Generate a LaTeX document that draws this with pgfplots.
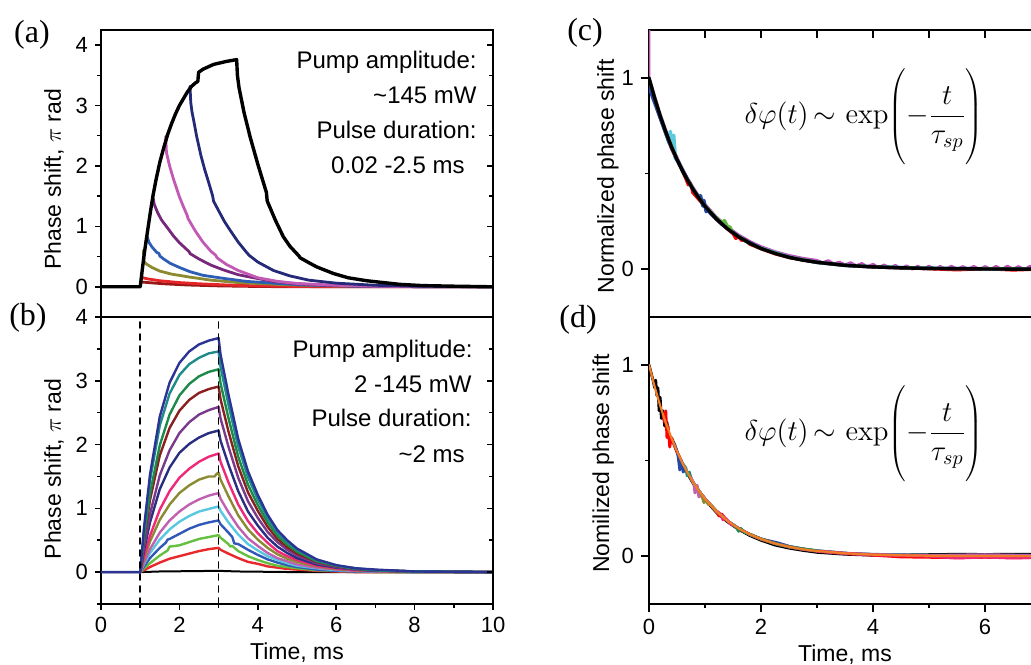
\documentclass[border=0pt]{standalone}
\usepackage[no-math]{fontspec}
\setmainfont{Liberation Sans}
\newfontfamily\seriffont{Liberation Serif}
\usepackage{pgfplots}
\pgfplotsset{compat=1.18}

\definecolor{aNavy}{HTML}{252A78}
\definecolor{aOrchid}{HTML}{C259B5}
\definecolor{aPurple}{HTML}{77287A}
\definecolor{aBlue}{HTML}{2D5DB5}
\definecolor{aOlive}{HTML}{8B8A30}
\definecolor{aRed}{HTML}{E52528}
\definecolor{aDRed}{HTML}{981818}
\definecolor{bNavy}{HTML}{2B3494}
\definecolor{bTeal}{HTML}{1F8A8A}
\definecolor{bGreen}{HTML}{1E8A4A}
\definecolor{bMaroon}{HTML}{8A1F1F}
\definecolor{bPurple}{HTML}{7A3A8C}
\definecolor{bDNavy}{HTML}{2A2E80}
\definecolor{bPink}{HTML}{F0287A}
\definecolor{bOlive}{HTML}{8A8A32}
\definecolor{bOrchid}{HTML}{C060B0}
\definecolor{bCyan}{HTML}{58C8E0}
\definecolor{bBlue}{HTML}{3058B8}
\definecolor{bLGreen}{HTML}{66C040}
\definecolor{bRed}{HTML}{E8282A}
\definecolor{cMag}{HTML}{C050B8}
\definecolor{cCyan}{HTML}{5EC8DC}
\definecolor{cBlue}{HTML}{2448A8}
\definecolor{cGreen}{HTML}{62B842}
\definecolor{dOrange}{HTML}{F07D24}
\definecolor{dTeal}{HTML}{1C8C7C}

\pgfplotsset{
  panel/.style={
    scale only axis, width=196pt, height=143.5pt,
    axis line style={line width=0.85pt},
    tick style={line width=0.75pt, black},
    major tick length=3pt, minor tick length=1.8pt,
    tick align=outside,
    /pgf/number format/assume math mode=true,
    tick label style={font=\fontsize{11}{13}\selectfont},
    label style={font=\fontsize{11.5}{13}\selectfont},
    xlabel style={yshift=2pt},
    every axis plot/.append style={line join=round, line cap=round},
  }
}

\newcommand{\formula}{$\displaystyle \delta\varphi(t)\,{\sim}\,\exp\!\left(\vrule height 25pt depth 22pt width 0pt -\frac{t}{\tau_{sp}}\right)$}

\begin{document}
\begin{tikzpicture}
\useasboundingbox (0,0) rectangle (515.5pt,-332pt);
\clip (0,0) rectangle (515.5pt,-332pt);

% ---------------- (a) ----------------
\begin{axis}[panel, at={(50.5pt,-15pt)}, anchor=north west,
  xmin=0, xmax=10, ymin=-0.5, ymax=4.25,
  xtick=\empty, ytick={0,1,2,3,4}, minor ytick={0.5,1.5,2.5,3.5}, ytick pos=left,
  ylabel={Phase shift, $\pi$ rad},
  ylabel style={at={(axis description cs:-0.12,0.48)}, anchor=center}]
\addplot[aDRed, line width=1.4pt] coordinates {(1.02,0.08) (1.20,0.07) (1.60,0.05) (2.20,0.03) (3.00,0.015) (4.00,0.005) (5,0) (10,0)};
\addplot[aRed, line width=1.4pt] coordinates {(1.04,0.17) (1.06,0.15) (1.20,0.13) (1.50,0.10) (2.00,0.07) (2.50,0.05) (3.20,0.03) (4.00,0.015) (5.00,0.005) (6,0) (10,0)};
\addplot[aOlive, line width=1.4pt] coordinates {(1.08,0.60) (1.10,0.42) (1.15,0.38) (1.30,0.32) (1.50,0.26) (1.80,0.21) (2.27,0.16) (2.80,0.11) (3.50,0.07) (4.50,0.04) (5.50,0.02) (7.00,0.005) (10,0)};
\addplot[aBlue, line width=1.4pt] coordinates {(1.18,0.83) (1.22,0.74) (1.30,0.66) (1.42,0.57) (1.48,0.55) (1.50,0.51) (1.60,0.46) (1.76,0.39) (2.00,0.32) (2.27,0.25) (2.60,0.19) (3.12,0.14) (3.70,0.09) (4.40,0.06) (5.20,0.03) (6.50,0.01) (8,0.003) (10,0)};
\addplot[aPurple, line width=1.4pt] coordinates {(1.33,1.47) (1.36,1.36) (1.45,1.22) (1.55,1.10) (1.68,0.99) (1.85,0.84) (2.00,0.73) (2.25,0.58) (2.27,0.55) (2.50,0.46) (2.80,0.36) (3.12,0.28) (3.50,0.20) (3.97,0.14) (4.40,0.09) (4.82,0.06) (5.50,0.03) (6.50,0.012) (8,0.003) (10,0)};
\addplot[aOrchid, line width=1.4pt] coordinates {(1.65,2.49) (1.67,2.22) (1.75,2.00) (1.85,1.78) (2.00,1.49) (2.10,1.33) (2.20,1.18) (2.22,1.13) (2.40,0.93) (2.60,0.74) (2.80,0.59) (2.93,0.52) (2.96,0.48) (3.20,0.37) (3.50,0.27) (4.00,0.15) (4.50,0.09) (5.00,0.055) (6.00,0.025) (7.00,0.01) (8,0.003) (10,0)};
\addplot[aNavy, line width=1.4pt] coordinates {(2.27,3.32) (2.29,3.05) (2.32,2.90) (2.38,2.70) (2.44,2.49) (2.55,2.17) (2.65,1.93) (2.75,1.72) (2.85,1.50) (2.87,1.42) (3.00,1.26) (3.15,1.08) (3.29,0.94) (3.50,0.74) (3.70,0.58) (3.78,0.52) (3.82,0.50) (4.00,0.41) (4.40,0.27) (4.82,0.18) (5.30,0.11) (6.00,0.06) (7.00,0.025) (8.00,0.01) (10,0)};
\addplot[black, line width=1.7pt] coordinates {(0,0) (1.0,0) (1.03,0.16) (1.06,0.32) (1.09,0.48) (1.12,0.62) (1.16,0.80) (1.21,1.02) (1.27,1.28) (1.33,1.52) (1.40,1.76) (1.50,2.06) (1.60,2.30) (1.70,2.52) (1.80,2.70) (1.90,2.86) (2.00,3.00) (2.10,3.11) (2.20,3.22) (2.30,3.31) (2.40,3.37) (2.47,3.40) (2.49,3.55) (2.60,3.60) (2.70,3.63) (2.87,3.68) (3.00,3.70) (3.20,3.73) (3.46,3.76) (3.48,3.50) (3.50,3.40) (3.52,3.30) (3.65,2.88) (3.80,2.49) (4.00,2.03) (4.22,1.56) (4.24,1.42) (4.45,1.10) (4.65,0.83) (4.82,0.67) (5.05,0.51) (5.08,0.48) (5.30,0.40) (5.50,0.33) (5.93,0.22) (6.30,0.15) (6.78,0.10) (7.20,0.07) (7.63,0.04) (8.20,0.02) (9.00,0.01) (10,0)};
\end{axis}
\begin{axis}[panel, at={(50.5pt,-15pt)}, anchor=north west,
  xmin=0, xmax=10, ymin=-0.5, ymax=4.25, axis x line=none, axis y line*=right,
  ytick={0,1,2,3,4}, minor ytick={0.5,1.5,2.5,3.5}, tick align=inside, yticklabels={}]
\end{axis}

% ---------------- (b) ----------------
\begin{axis}[panel, at={(50.5pt,-158.5pt)}, anchor=north west,
  xmin=0, xmax=10, ymin=-0.5, ymax=4,
  xtick={0,2,4,6,8,10}, minor xtick={1,3,5,7,9}, xtick pos=left,
  ytick={0,1,2,3,4}, minor ytick={-0.5,0.5,1.5,2.5,3.5}, ytick pos=left,
  xlabel={Time, ms}, ylabel={Phase shift, $\pi$ rad},
  ylabel style={at={(axis description cs:-0.12,0.47)}, anchor=center}]
\addplot[black, line width=1pt] coordinates {(0,0) (1,0) (1.5,0.01) (3,0.02) (3.5,0.01) (5,0) (10,0)};
\addplot[bRed, line width=1.2pt] coordinates {(1,0) (1.1,0.03) (1.25,0.08) (1.5,0.15) (1.75,0.21) (2,0.25) (2.25,0.29) (2.5,0.33) (2.75,0.36) (3,0.38) (3.05,0.35) (3.25,0.29) (3.5,0.22) (3.75,0.16) (4,0.13) (4.25,0.09) (4.5,0.07) (4.75,0.05) (5,0.04) (5.5,0.02) (6,0.01) (6.5,0) (10,0)};
\addplot[bLGreen, line width=1.2pt] coordinates {(1,0) (1.1,0.06) (1.25,0.14) (1.5,0.26) (1.7,0.34) (1.75,0.40) (2,0.42) (2.25,0.47) (2.5,0.52) (2.75,0.55) (3,0.58) (3.05,0.54) (3.25,0.44) (3.3,0.40) (3.35,0.41) (3.5,0.33) (3.75,0.25) (4,0.19) (4.25,0.14) (4.5,0.10) (4.75,0.08) (5,0.06) (5.5,0.03) (6,0.02) (6.5,0.01) (7,0) (10,0)};
\addplot[bBlue, line width=1.2pt] coordinates {(1,0) (1.1,0.09) (1.25,0.22) (1.5,0.38) (1.65,0.46) (1.7,0.51) (1.75,0.52) (2,0.60) (2.25,0.68) (2.5,0.74) (2.75,0.78) (3,0.81) (3.05,0.75) (3.25,0.62) (3.35,0.55) (3.4,0.45) (3.5,0.44) (3.75,0.35) (4,0.27) (4.25,0.20) (4.5,0.15) (4.75,0.11) (5,0.08) (5.5,0.04) (6,0.02) (6.5,0.01) (7,0.01) (8,0) (10,0)};
\addplot[bCyan, line width=1.2pt] coordinates {(1,0) (1.1,0.13) (1.25,0.30) (1.5,0.51) (1.75,0.67) (2,0.79) (2.25,0.88) (2.5,0.95) (2.75,0.99) (3,1.03) (3.05,0.96) (3.25,0.78) (3.5,0.59) (3.75,0.44) (4,0.34) (4.25,0.25) (4.5,0.19) (4.75,0.14) (5,0.10) (5.5,0.06) (6,0.03) (6.5,0.02) (7,0.01) (8,0) (10,0)};
\addplot[bOrchid, line width=1.2pt] coordinates {(1,0) (1.1,0.15) (1.25,0.36) (1.5,0.62) (1.75,0.81) (2,0.95) (2.25,1.06) (2.5,1.14) (2.75,1.20) (3,1.24) (3.05,1.15) (3.25,0.94) (3.5,0.71) (3.75,0.53) (4,0.41) (4.25,0.30) (4.5,0.22) (4.75,0.17) (5,0.12) (5.5,0.07) (6,0.04) (6.5,0.02) (7,0.01) (8,0) (10,0)};
\addplot[bOlive, line width=1.2pt] coordinates {(1,0) (1.1,0.21) (1.25,0.48) (1.5,0.82) (1.75,1.06) (2,1.24) (2.25,1.36) (2.5,1.45) (2.75,1.50) (2.9,1.50) (2.95,1.54) (3,1.56) (3.05,1.45) (3.25,1.19) (3.5,0.89) (3.75,0.67) (4,0.51) (4.25,0.38) (4.5,0.28) (4.75,0.21) (5,0.16) (5.5,0.09) (6,0.05) (6.5,0.03) (7,0.02) (8,0) (10,0)};
\addplot[bPink, line width=1.2pt] coordinates {(1,0) (1.1,0.25) (1.25,0.57) (1.5,0.98) (1.75,1.27) (2,1.48) (2.25,1.62) (2.5,1.73) (2.75,1.81) (3,1.86) (3.05,1.73) (3.25,1.41) (3.5,1.06) (3.75,0.80) (4,0.61) (4.25,0.46) (4.5,0.33) (4.75,0.25) (5,0.19) (5.5,0.10) (6,0.06) (6.5,0.03) (7,0.02) (8,0.01) (10,0)};
\addplot[bDNavy, line width=1.2pt] coordinates {(1,0) (1.1,0.35) (1.25,0.78) (1.5,1.30) (1.75,1.64) (2,1.87) (2.25,2.01) (2.5,2.11) (2.75,2.18) (3,2.22) (3.05,2.06) (3.25,1.69) (3.5,1.27) (3.75,0.95) (4,0.73) (4.25,0.54) (4.5,0.40) (4.75,0.30) (5,0.22) (5.5,0.12) (6,0.07) (6.5,0.04) (7,0.02) (8,0.01) (10,0)};
\addplot[bPurple, line width=1.2pt] coordinates {(1,0) (1.1,0.41) (1.25,0.91) (1.5,1.52) (1.75,1.91) (2,2.18) (2.25,2.35) (2.5,2.47) (2.75,2.54) (3,2.59) (3.05,2.41) (3.25,1.97) (3.5,1.48) (3.75,1.11) (4,0.85) (4.25,0.63) (4.5,0.47) (4.75,0.35) (5,0.26) (5.5,0.14) (6,0.08) (6.5,0.04) (7,0.03) (8,0.01) (10,0)};
\addplot[bMaroon, line width=1.2pt] coordinates {(1,0) (1.1,0.52) (1.25,1.13) (1.5,1.83) (1.75,2.26) (2,2.53) (2.25,2.70) (2.5,2.81) (2.75,2.87) (3,2.91) (3.05,2.71) (3.25,2.21) (3.5,1.66) (3.75,1.25) (4,0.96) (4.25,0.71) (4.5,0.52) (4.75,0.39) (5,0.29) (5.5,0.16) (6,0.09) (6.5,0.05) (7,0.03) (8,0.01) (10,0)};
\addplot[bGreen, line width=1.2pt] coordinates {(1,0) (1.1,0.56) (1.25,1.23) (1.5,1.99) (1.75,2.47) (2,2.77) (2.25,2.95) (2.5,3.07) (2.75,3.14) (3,3.18) (3.05,2.96) (3.25,2.42) (3.5,1.81) (3.75,1.37) (4,1.05) (4.25,0.78) (4.5,0.57) (4.75,0.43) (5,0.32) (5.5,0.17) (6,0.10) (6.5,0.05) (7,0.03) (8,0.01) (10,0)};
\addplot[bTeal, line width=1.2pt] coordinates {(1,0) (1.1,0.67) (1.25,1.44) (1.5,2.30) (1.75,2.80) (2,3.09) (2.25,3.26) (2.5,3.36) (2.75,3.43) (3,3.46) (3.05,3.22) (3.25,2.63) (3.5,1.97) (3.75,1.49) (4,1.14) (4.25,0.85) (4.5,0.62) (4.75,0.47) (5,0.35) (5.5,0.19) (6,0.10) (6.5,0.06) (7,0.03) (8,0.01) (10,0)};
\addplot[bNavy, line width=1.2pt] coordinates {(0,0) (1,0) (1.1,0.71) (1.25,1.53) (1.5,2.44) (1.75,2.97) (2,3.28) (2.25,3.46) (2.5,3.57) (2.75,3.63) (3,3.67) (3.05,3.41) (3.25,2.79) (3.5,2.09) (3.75,1.58) (4,1.21) (4.25,0.90) (4.5,0.66) (4.75,0.50) (5,0.37) (5.5,0.20) (6,0.11) (6.5,0.06) (7,0.04) (8,0.01) (10,0)};
\addplot[black, dashed, line width=0.8pt] coordinates {(1,-0.5) (1,4)};
\addplot[black, dashed, line width=0.8pt] coordinates {(3,-0.5) (3,4)};
\end{axis}
\begin{axis}[panel, at={(50.5pt,-158.5pt)}, anchor=north west,
  xmin=0, xmax=10, ymin=-0.5, ymax=4, axis x line=none, axis y line*=right,
  ytick={0,1,2,3,4}, minor ytick={-0.5,0.5,1.5,2.5,3.5}, tick align=inside, yticklabels={}]
\end{axis}

% ---------------- (c) ----------------
\begin{axis}[panel, at={(324.5pt,-15pt)}, anchor=north west,
  xmin=0, xmax=7, ymin=-0.25, ymax=1.25,
  xtick={1,2,3,4,5,6,7}, xtick pos=right, xtick align=inside, xticklabels={},
  ytick={0,1}, minor ytick={0.5}, ytick pos=left, ytick align=outside,
  major tick length=4pt,
  ylabel={Normalized phase shift},
  ylabel style={at={(axis description cs:-0.105,0.49)}, anchor=center}]
\addplot[cMag, line width=1.4pt] coordinates {(0,1.25) (0,1.0) (0.1,0.905) (0.2,0.81) (0.3,0.727) (0.4,0.65) (0.5,0.584) (0.6,0.523) (0.7,0.469) (0.8,0.421) (0.9,0.378) (1.0,0.339) (1.2,0.274) (1.4,0.221) (1.6,0.179) (1.8,0.145) (2.0,0.118) (2.25,0.092) (2.5,0.072) (2.75,0.057) (3.0,0.046) (3.1,0.034) (3.2,0.045) (3.3,0.028) (3.4,0.037) (3.5,0.022) (3.6,0.034) (3.7,0.018) (3.8,0.03) (3.9,0.012) (4.0,0.026) (4.1,0.008) (4.2,0.022) (4.3,0.006) (4.4,0.02) (4.5,0.002) (4.6,0.018) (4.7,0.0) (4.8,0.016) (4.9,0.0) (5.0,0.016) (5.1,-0.002) (5.2,0.015) (5.3,0.0) (5.4,0.016) (5.5,-0.002) (5.6,0.014) (5.7,0.0) (5.8,0.015) (5.9,-0.002) (6.0,0.014) (6.1,0.0) (6.2,0.015) (6.3,-0.002) (6.4,0.016) (6.5,0.0) (6.6,0.014) (6.7,-0.003) (6.8,0.015) (6.9,0.0) (7.0,0.012)};
\addplot[cCyan, line width=1.8pt] coordinates {(0.2,0.80) (0.3,0.71) (0.36,0.66) (0.38,0.72) (0.42,0.63) (0.44,0.70) (0.47,0.58) (0.5,0.57) (0.55,0.55) (0.6,0.51) (0.7,0.46) (0.8,0.41) (1.0,0.33) (1.25,0.25) (1.5,0.19) (1.75,0.142) (2.0,0.11) (2.5,0.063) (3,0.035) (3.5,0.02) (4,0.012) (5,0.004) (7,0)};
\addplot[red, line width=1.5pt] coordinates {(0,0.97) (0.2,0.79) (0.4,0.63) (0.6,0.51) (0.66,0.47) (0.7,0.44) (0.74,0.45) (0.78,0.40) (0.9,0.36) (1.05,0.31) (1.2,0.26) (1.4,0.21) (1.5,0.185) (1.55,0.16) (1.6,0.17) (1.65,0.15) (1.72,0.155) (1.8,0.13) (2.0,0.106) (2.25,0.08) (2.5,0.06) (3,0.035) (3.5,0.02) (4,0.011) (5,0.002) (5.5,-0.004) (6,0.002) (6.5,-0.005) (7,0)};
\addplot[cBlue, line width=1.7pt] coordinates {(0,0.95) (0.2,0.79) (0.35,0.67) (0.5,0.57) (0.65,0.49) (0.8,0.41) (0.9,0.37) (0.92,0.385) (0.96,0.33) (0.98,0.36) (1.02,0.30) (1.05,0.31) (1.1,0.29) (1.3,0.235) (1.6,0.17) (2,0.108) (2.5,0.062) (3,0.036) (3.5,0.02) (4,0.012) (5,0.004) (7,0)};
\addplot[cGreen, line width=1.5pt] coordinates {(0,1.0) (0.15,0.847) (0.3,0.717) (0.45,0.606) (0.6,0.513) (0.8,0.411) (1.0,0.33) (1.2,0.27) (1.3,0.245) (1.35,0.255) (1.4,0.225) (1.45,0.22) (1.5,0.19) (1.8,0.135) (2,0.108) (2.5,0.062) (3,0.036) (3.5,0.02) (4,0.012) (5,0.004) (7,0)};
\addplot[black, line width=1.7pt] coordinates {(0,1) (0.1,0.895) (0.2,0.801) (0.3,0.717) (0.4,0.641) (0.5,0.574) (0.6,0.513) (0.7,0.459) (0.8,0.411) (0.9,0.368) (1.0,0.329) (1.2,0.264) (1.4,0.211) (1.6,0.169) (1.8,0.135) (2.0,0.108) (2.25,0.082) (2.5,0.062) (2.75,0.047) (3,0.036) (3.5,0.020) (4,0.012) (4.5,0.007) (5,0.004) (6,0.001) (7,0)};
\end{axis}

% ---------------- (d) ----------------
\begin{axis}[panel, at={(324.5pt,-158.5pt)}, anchor=north west,
  xmin=0, xmax=7, ymin=-0.25, ymax=1.25,
  xtick={0,2,4,6}, minor xtick={1,3,5,7}, xtick pos=left,
  ytick={0,1}, minor ytick={0.5}, ytick pos=left,
  major tick length=4pt,
  xlabel={Time, ms}, ylabel={Nomilized phase shift},
  ylabel style={at={(axis description cs:-0.117,0.49)}, anchor=center}]
\addplot[black, line width=1.4pt] coordinates {(0,1.0) (0.08,0.91) (0.1,0.88) (0.12,0.92) (0.14,0.84) (0.16,0.88) (0.18,0.76) (0.2,0.83) (0.22,0.72) (0.25,0.76) (0.28,0.68) (0.32,0.70) (0.36,0.62) (0.4,0.62) (0.43,0.60) (0.5,0.545) (0.6,0.48) (0.7,0.425) (0.8,0.375) (0.9,0.333) (1.0,0.295) (1.2,0.23) (1.4,0.18) (1.6,0.14) (1.8,0.108) (2.0,0.083) (2.25,0.058) (2.5,0.042) (2.75,0.03) (3.0,0.02) (3.5,0.01) (4,0.005) (4.5,0.006) (5,0.008) (5.5,0.01) (6,0.009) (6.5,0.01) (7,0.01)};
\addplot[red, line width=1.4pt] coordinates {(0.25,0.74) (0.28,0.70) (0.3,0.76) (0.32,0.62) (0.34,0.68) (0.37,0.57) (0.4,0.62) (0.45,0.58) (0.5,0.545) (0.6,0.483) (0.7,0.428) (0.8,0.38) (0.9,0.337) (1.0,0.299) (1.1,0.266) (1.2,0.234) (1.25,0.21) (1.3,0.22) (1.4,0.183) (1.6,0.144) (1.8,0.113) (2,0.088) (2.5,0.048) (3,0.026) (3.5,0.013) (4,0.005) (4.5,-0.004) (5,-0.006) (5.5,-0.008) (6,-0.006) (6.5,-0.008) (7,-0.007)};
\addplot[cBlue, line width=1.4pt] coordinates {(0.45,0.59) (0.5,0.55) (0.52,0.52) (0.55,0.45) (0.58,0.50) (0.61,0.44) (0.65,0.45) (0.7,0.43) (0.8,0.38) (0.9,0.338) (1,0.30) (1.2,0.236) (1.4,0.185) (1.6,0.145) (1.8,0.114) (2,0.09) (2.3,0.07) (2.5,0.052) (2.75,0.038) (3,0.027) (3.5,0.015) (4,0.009) (5,0.005) (7,0.004)};
\addplot[dTeal, line width=1.4pt] coordinates {(0.6,0.485) (0.66,0.46) (0.68,0.42) (0.72,0.44) (0.76,0.40) (0.8,0.38) (0.9,0.338) (1,0.30) (1.2,0.236) (1.4,0.185) (1.6,0.145) (1.8,0.114) (2,0.09) (2.25,0.066) (2.5,0.049) (2.75,0.036) (3.2,0.024) (3.6,0.014) (4,0.01) (5,0.004) (7,0.002)};
\addplot[bOrchid, line width=1.4pt] coordinates {(0.75,0.41) (0.8,0.38) (0.82,0.33) (0.86,0.37) (0.89,0.31) (0.95,0.32) (1,0.30) (1.2,0.236) (1.4,0.185) (1.6,0.145) (1.8,0.114) (2,0.09) (2.25,0.066) (2.5,0.049) (3,0.027) (3.5,0.015) (4,0.008) (5,0.004) (6,0.008) (7,0.003)};
\addplot[bOlive, line width=1.4pt] coordinates {(0.9,0.34) (0.95,0.31) (0.98,0.28) (1.02,0.29) (1.06,0.27) (1.1,0.27) (1.2,0.237) (1.3,0.21)};
\addplot[bPink, line width=1.4pt] coordinates {(1.2,0.236) (1.28,0.22) (1.32,0.19) (1.36,0.20) (1.45,0.17) (1.6,0.145) (1.8,0.114) (2,0.09) (2.25,0.066) (2.5,0.049) (2.75,0.036) (3,0.027) (3.5,0.015) (4,0.008) (4.5,0.003) (5,0.0) (5.5,-0.01) (6,-0.005) (6.5,-0.01) (7,-0.006)};
\addplot[bGreen, line width=1.4pt] coordinates {(1.5,0.165) (1.56,0.15) (1.6,0.13) (1.64,0.145) (1.7,0.125) (1.8,0.114) (2,0.09) (2.25,0.066) (2.5,0.049) (3,0.028)};
\addplot[dOrange, line width=1.1pt] coordinates {(0,1) (0.1,0.886) (0.2,0.786) (0.3,0.697) (0.4,0.618) (0.5,0.548) (0.6,0.485) (0.7,0.430) (0.8,0.381) (0.9,0.338) (1.0,0.300) (1.2,0.236) (1.4,0.185) (1.6,0.145) (1.8,0.114) (2.0,0.090) (2.25,0.066) (2.5,0.049) (2.75,0.036) (3,0.027) (3.5,0.015) (4,0.008) (4.5,0.0044) (5,0.0024) (6,0.0007) (7,0)};
\end{axis}

% ---------------- texts ----------------
\begin{scope}[every node/.style={anchor=base east, inner sep=0pt, font=\fontsize{12}{14}\selectfont}]
\node at (238.5pt,-34pt) {Pump amplitude:};
\node at (238.5pt,-51.5pt) {\textasciitilde 145 mW};
\node at (238.5pt,-69pt) {Pulse duration:};
\node at (232.5pt,-86.5pt) {0.02 -2.5 ms};
\node at (236.5pt,-178.5pt) {Pump amplitude:};
\node at (236pt,-196pt) {2 -145 mW};
\node at (236pt,-213pt) {Pulse duration:};
\node at (232.5pt,-231pt) {\textasciitilde 2 ms};
\end{scope}
\begin{scope}[every node/.style={font=\seriffont\fontsize{16}{18}\selectfont, inner sep=0pt}]
\node at (16pt,-17.5pt) {(a)};
\node at (14pt,-159pt) {(b)};
\node at (292.5pt,-16.5pt) {(c)};
\node at (289pt,-160pt) {(d)};
\end{scope}
\node[font=\fontsize{14}{16}\selectfont, inner sep=0pt] at (432pt,-59pt) {\formula};
\node[font=\fontsize{14}{16}\selectfont, inner sep=0pt] at (432pt,-217.5pt) {\formula};
\end{tikzpicture}
\end{document}
